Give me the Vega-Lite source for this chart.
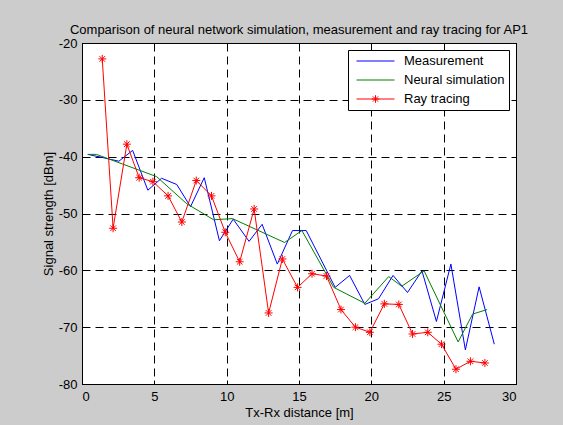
{
  "$schema": "https://vega.github.io/schema/vega-lite/v6.json",
  "autosize": {"type": "none"},
  "padding": {"left": 82, "top": 43, "right": 47, "bottom": 41},
  "width": 434,
  "height": 341,
  "background": "#cccccc",
  "view": {"fill": "white", "stroke": "black", "strokeWidth": 1},
  "title": {
    "text": "Comparison of neural network simulation, measurement and ray tracing for AP1",
    "font": "Liberation Sans", "fontSize": 13, "fontWeight": "normal", "color": "black",
    "anchor": "middle", "offset": 0
  },
  "resolve": {"axis": {"x": "independent", "y": "independent"}},
  "config": {
    "axis": {
      "labelFont": "Liberation Sans", "labelFontSize": 13, "labelColor": "black",
      "titleFont": "Liberation Sans", "titleFontSize": 13, "titleColor": "black", "titleFontWeight": "normal",
      "domain": false, "ticks": true, "tickSize": -4, "tickColor": "black", "tickWidth": 1,
      "labelExpr": "'' + datum.value"
    }
  },
  "data": {
    "values": [
      {"series": "Measurement", "x": 0.4, "y": -39.6},
      {"series": "Measurement", "x": 1.5, "y": -40.2},
      {"series": "Measurement", "x": 2.55, "y": -40.8},
      {"series": "Measurement", "x": 3.5, "y": -38.9},
      {"series": "Measurement", "x": 4.55, "y": -45.9},
      {"series": "Measurement", "x": 5.5, "y": -43.8},
      {"series": "Measurement", "x": 6.55, "y": -44.9},
      {"series": "Measurement", "x": 7.5, "y": -48.8},
      {"series": "Measurement", "x": 8.45, "y": -43.7},
      {"series": "Measurement", "x": 9.5, "y": -54.8},
      {"series": "Measurement", "x": 10.45, "y": -51.0},
      {"series": "Measurement", "x": 11.55, "y": -54.9},
      {"series": "Measurement", "x": 12.45, "y": -51.9},
      {"series": "Measurement", "x": 13.5, "y": -58.9},
      {"series": "Measurement", "x": 14.55, "y": -53.0},
      {"series": "Measurement", "x": 15.5, "y": -53.0},
      {"series": "Measurement", "x": 16.5, "y": -58.0},
      {"series": "Measurement", "x": 17.5, "y": -63.0},
      {"series": "Measurement", "x": 18.5, "y": -60.9},
      {"series": "Measurement", "x": 19.55, "y": -66.0},
      {"series": "Measurement", "x": 20.5, "y": -65.0},
      {"series": "Measurement", "x": 21.5, "y": -60.9},
      {"series": "Measurement", "x": 22.5, "y": -63.9},
      {"series": "Measurement", "x": 23.5, "y": -60.1},
      {"series": "Measurement", "x": 24.5, "y": -69.0},
      {"series": "Measurement", "x": 25.5, "y": -58.9},
      {"series": "Measurement", "x": 26.5, "y": -74.0},
      {"series": "Measurement", "x": 27.45, "y": -62.9},
      {"series": "Measurement", "x": 28.5, "y": -73.0},
      {"series": "Neural simulation", "x": 0.4, "y": -39.6},
      {"series": "Neural simulation", "x": 1.0, "y": -39.6},
      {"series": "Neural simulation", "x": 5.15, "y": -43.5},
      {"series": "Neural simulation", "x": 7.25, "y": -48.3},
      {"series": "Neural simulation", "x": 9.1, "y": -51.1},
      {"series": "Neural simulation", "x": 10.4, "y": -50.9},
      {"series": "Neural simulation", "x": 14.0, "y": -55.1},
      {"series": "Neural simulation", "x": 15.2, "y": -53.0},
      {"series": "Neural simulation", "x": 17.4, "y": -63.0},
      {"series": "Neural simulation", "x": 19.55, "y": -65.8},
      {"series": "Neural simulation", "x": 21.2, "y": -61.1},
      {"series": "Neural simulation", "x": 22.1, "y": -62.8},
      {"series": "Neural simulation", "x": 23.65, "y": -60.1},
      {"series": "Neural simulation", "x": 26.0, "y": -72.6},
      {"series": "Neural simulation", "x": 27.0, "y": -67.7},
      {"series": "Neural simulation", "x": 28.0, "y": -66.9},
      {"series": "Ray tracing", "x": 1.4, "y": -22.8},
      {"series": "Ray tracing", "x": 2.15, "y": -52.6},
      {"series": "Ray tracing", "x": 3.1, "y": -37.8},
      {"series": "Ray tracing", "x": 3.95, "y": -43.7},
      {"series": "Ray tracing", "x": 4.9, "y": -44.4},
      {"series": "Ray tracing", "x": 5.95, "y": -46.9},
      {"series": "Ray tracing", "x": 6.9, "y": -51.5},
      {"series": "Ray tracing", "x": 7.9, "y": -44.2},
      {"series": "Ray tracing", "x": 8.95, "y": -46.9},
      {"series": "Ray tracing", "x": 9.9, "y": -53.3},
      {"series": "Ray tracing", "x": 10.9, "y": -58.5},
      {"series": "Ray tracing", "x": 11.9, "y": -49.2},
      {"series": "Ray tracing", "x": 12.9, "y": -67.5},
      {"series": "Ray tracing", "x": 13.85, "y": -58.0},
      {"series": "Ray tracing", "x": 14.9, "y": -63.0},
      {"series": "Ray tracing", "x": 15.9, "y": -60.6},
      {"series": "Ray tracing", "x": 16.9, "y": -61.0},
      {"series": "Ray tracing", "x": 17.9, "y": -66.9},
      {"series": "Ray tracing", "x": 18.9, "y": -70.0},
      {"series": "Ray tracing", "x": 19.9, "y": -70.9},
      {"series": "Ray tracing", "x": 20.9, "y": -65.9},
      {"series": "Ray tracing", "x": 21.9, "y": -66.0},
      {"series": "Ray tracing", "x": 22.85, "y": -71.2},
      {"series": "Ray tracing", "x": 23.9, "y": -70.9},
      {"series": "Ray tracing", "x": 24.85, "y": -73.0},
      {"series": "Ray tracing", "x": 25.85, "y": -77.4},
      {"series": "Ray tracing", "x": 26.85, "y": -76.0},
      {"series": "Ray tracing", "x": 27.85, "y": -76.3}
    ]
  },
  "layer": [
    {
      "transform": [{"filter": "datum.x > 1000"}],
      "mark": {"type": "point", "filled": false, "strokeWidth": 1},
      "encoding": {
        "x": {
          "field": "x", "type": "quantitative",
          "scale": {"domain": [0, 30], "nice": false, "zero": false},
          "axis": {"orient": "top", "values": [0, 5, 10, 15, 20, 25, 30], "title": null, "labels": false, "grid": false}
        },
        "y": {
          "field": "y", "type": "quantitative",
          "scale": {"domain": [-80, -20], "nice": false, "zero": false},
          "axis": {"orient": "right", "values": [-80, -70, -60, -50, -40, -30, -20], "title": null, "labels": false, "grid": false}
        },
        "color": {
          "field": "series", "type": "nominal",
          "scale": {"domain": ["Measurement", "Neural simulation", "Ray tracing"], "range": ["#0000ff", "#008000", "#ff0000"]},
          "legend": {
            "orient": "none", "legendX": 266, "legendY": 7, "title": null,
            "symbolSize": 1444, "clipHeight": 14, "rowPadding": 5, "padding": 4,
            "symbolOffset": 4, "labelOffset": 9, "strokeColor": "black", "fillColor": "white",
            "labelFont": "Liberation Sans", "labelFontSize": 13, "labelColor": "black",
            "symbolOpacity": 1, "symbolStrokeWidth": 1
          }
        },
        "shape": {
          "field": "series", "type": "nominal",
          "scale": {
            "domain": ["Measurement", "Neural simulation", "Ray tracing"],
            "range": ["M-1,0L1,0", "M-1,0L1,0", "M-1,0L1,0M0,-0.2L0,0.2M-0.2,0L0.2,0M-0.14,-0.14L0.14,0.14M-0.14,0.14L0.14,-0.14"]
          },
          "legend": {
            "orient": "none", "legendX": 266, "legendY": 7, "title": null,
            "symbolSize": 1444, "clipHeight": 14, "rowPadding": 5, "padding": 4,
            "symbolOffset": 4, "labelOffset": 9, "strokeColor": "black", "fillColor": "white",
            "labelFont": "Liberation Sans", "labelFontSize": 13, "labelColor": "black",
            "symbolOpacity": 1, "symbolStrokeWidth": 1
          }
        }
      }
    },
    {
      "mark": {"type": "line", "strokeWidth": 1},
      "encoding": {
        "x": {
          "field": "x", "type": "quantitative",
          "scale": {"domain": [0, 30], "nice": false, "zero": false},
          "axis": {"values": [0, 5, 10, 15, 20, 25, 30], "title": "Tx-Rx distance [m]", "labelPadding": 10, "titlePadding": 3,
                   "grid": true, "gridColor": "black", "gridDash": [8, 5], "gridWidth": 1, "gridOpacity": 1}
        },
        "y": {
          "field": "y", "type": "quantitative",
          "scale": {"domain": [-80, -20], "nice": false, "zero": false},
          "axis": {"values": [-80, -70, -60, -50, -40, -30, -20], "title": "Signal strength [dBm]", "labelPadding": 9, "titlePadding": 3,
                   "grid": true, "gridColor": "black", "gridDash": [8, 5], "gridWidth": 1, "gridOpacity": 1}
        },
        "color": {"field": "series", "type": "nominal"},
        "order": {"field": "x", "type": "quantitative"}
      }
    },
    {
      "transform": [{"filter": "datum.series === 'Ray tracing'"}],
      "mark": {
        "type": "point", "filled": false, "color": "#ff0000", "strokeWidth": 1, "size": 64, "opacity": 1,
        "shape": "M0,-1L0,1M-1,0L1,0M-0.7,-0.7L0.7,0.7M-0.7,0.7L0.7,-0.7"
      },
      "encoding": {
        "x": {"field": "x", "type": "quantitative", "axis": null},
        "y": {"field": "y", "type": "quantitative", "axis": null}
      }
    }
  ]
}
